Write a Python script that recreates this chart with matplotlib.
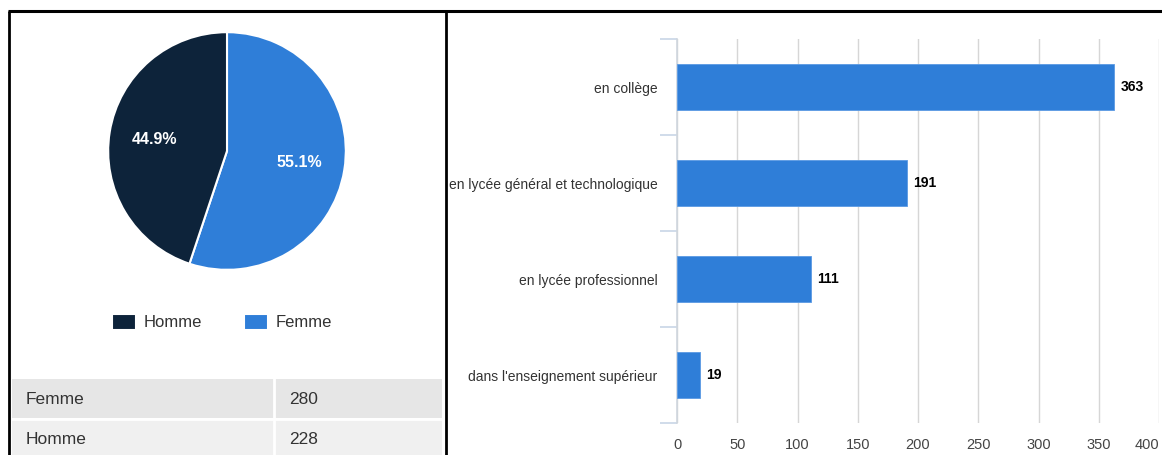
import matplotlib.pyplot as plt
from matplotlib.patches import Rectangle
from matplotlib.ticker import FixedLocator

plt.rcParams['font.family'] = ['Liberation Sans', 'DejaVu Sans']

# gender split (pie + table)
genres = ['Femme', 'Homme']
effectifs = [280, 228]

# where the pupils are schooled (bar chart)
niveaux = ['en collège', 'en lycée général et technologique',
           'en lycée professionnel', "dans l'enseignement supérieur"]
nb_eleves = [363, 191, 111, 19]
x_ticks = [0, 50, 100, 150, 200, 250, 300, 350, 400]

bleu = '#2f7ed8'
marine = '#0d233a'
W, H = 1162, 455

fig = plt.figure(figsize=(W / 100, H / 100), dpi=100)
fig.patch.set_facecolor('white')

# background layer in pixel coords for frames and the table
bg = fig.add_axes([0, 0, 1, 1])
bg.set_xlim(0, W)
bg.set_ylim(H, 0)
bg.axis('off')
bg.plot([8, W], [11, 11], color='black', lw=2.2, solid_capstyle='butt')
bg.plot([9, 9], [11, H], color='black', lw=2.0, solid_capstyle='butt')
bg.plot([446, 446], [11, H], color='black', lw=2.0, solid_capstyle='butt')

row_colors = ['#e6e6e6', '#f0f0f0']
row_top = [379, 419]
for i, (g, n) in enumerate(zip(genres, effectifs)):
    y0 = row_top[i]
    bg.add_patch(Rectangle((12, y0), 430, 39, facecolor=row_colors[i], edgecolor='none'))
    bg.plot([274, 274], [y0, y0 + 39], color='white', lw=2)
    bg.text(26, y0 + 20, g, fontsize=12.5, color='#333333', va='center', ha='left')
    bg.text(289, y0 + 20, str(n), fontsize=12.5, color='#333333', va='center', ha='left')
bg.plot([12, 442], [418.5, 418.5], color='white', lw=2)

# pie
ax_pie = fig.add_axes([107 / W, 1 - 271 / H, 240 / W, 240 / H])
wedges, _, autotexts = ax_pie.pie(
    effectifs, colors=[bleu, marine], startangle=90, counterclock=False,
    autopct='%.1f%%', pctdistance=0.62, radius=1,
    wedgeprops=dict(edgecolor='white', linewidth=1.5))
for t in autotexts:
    t.set_color('white')
    t.set_fontweight('bold')
    t.set_fontsize(11.5)
ax_pie.set_xlim(-1.01, 1.01)
ax_pie.set_ylim(-1.01, 1.01)

leg = fig.legend([wedges[1], wedges[0]], [genres[1], genres[0]],
                 loc='center', bbox_to_anchor=(222 / W, 1 - 322 / H), ncol=2,
                 frameon=False, fontsize=12, handlelength=1.45, handleheight=1.1,
                 columnspacing=2.5, handletextpad=0.45)
for t in leg.get_texts():
    t.set_color('#333333')

# horizontal bars
ax = fig.add_axes([677 / W, 1 - 423 / H, 482 / W, 384 / H])
ypos = range(len(niveaux))
ax.barh(ypos, nb_eleves, height=0.47, color=bleu, edgecolor='#5b9ae3', linewidth=0.6, zorder=3)
for y, v in zip(ypos, nb_eleves):
    ax.text(v + 5, y, str(v), fontsize=10, fontweight='bold', color='black',
            va='center', ha='left')

ax.set_xlim(0, 400)
ax.set_ylim(len(niveaux) - 0.5, -0.5)
ax.set_xticks(x_ticks)
ax.set_xticklabels([str(v) for v in x_ticks], fontsize=10.5, color='#444444')
ax.get_xticklabels()[-1].set_horizontalalignment('right')
ax.tick_params(axis='x', length=0, pad=11)
ax.set_yticks(list(ypos))
ax.set_yticklabels(niveaux, fontsize=10, color='#333333')
ax.tick_params(axis='y', which='major', length=0, pad=14)
ax.yaxis.set_minor_locator(FixedLocator([i - 0.5 for i in range(len(niveaux) + 1)]))
ax.tick_params(axis='y', which='minor', length=12, width=1.2, color='#c8d6e6')
ax.grid(axis='x', color='#d6d6d6', lw=1, zorder=0)
for s in ['top', 'right', 'bottom']:
    ax.spines[s].set_visible(False)
ax.spines['left'].set_color('#cfd6de')
ax.spines['left'].set_linewidth(1.2)

fig.savefig('out.png', dpi=100, facecolor='white')
